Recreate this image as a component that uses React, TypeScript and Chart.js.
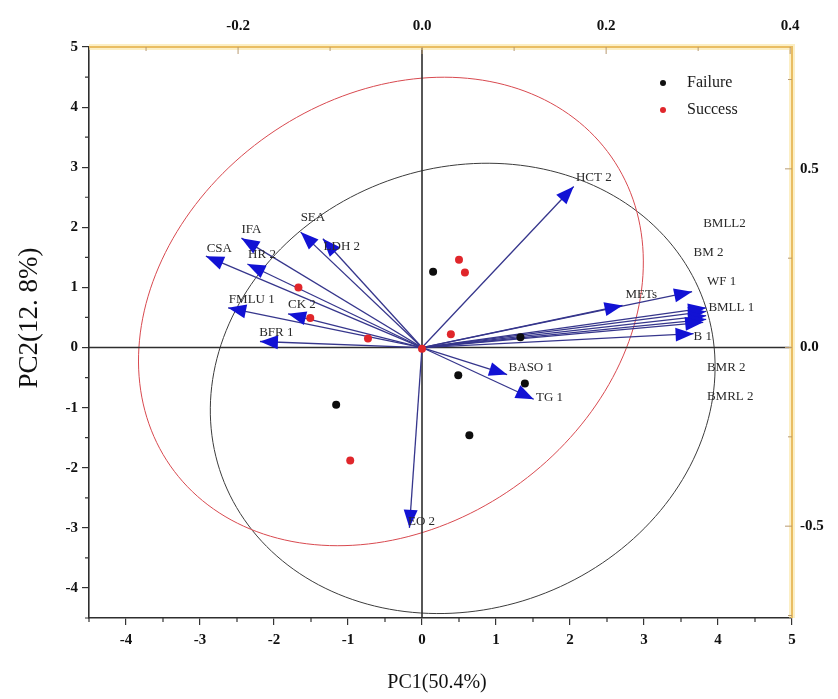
import { useEffect, useRef } from "react";
import { Chart, registerables } from "chart.js";

Chart.register(...registerables);

// ---------- data ----------
const FAILURE_PC1 = [0.15, 0.49, 1.39, 0.64, -1.16, 1.33];
const FAILURE_PC2 = [1.26, -0.46, -0.6, -1.46, -0.95, 0.17];

const SUCCESS_PC1 = [0.5, 0.58, 0.39, -1.67, -1.51, -0.73, -0.97, 0.0];
const SUCCESS_PC2 = [1.46, 1.25, 0.22, 1.0, 0.49, 0.15, -1.88, -0.02];

const LOADING_NAMES = [
  "HCT 2", "SEA", "LDH 2", "IFA", "CSA", "HR 2", "FMLU 1", "CK 2", "BFR 1",
  "METs", "BMLL2", "BM 2", "WF 1", "BMLL 1", "B 1", "BMR 2", "BMRL 2",
  "BASO 1", "TG 1", "EO 2",
];
const LOADING_PC1 = [
  2.05, -1.64, -1.34, -2.44, -2.92, -2.36, -2.62, -1.81, -2.19,
  2.71, 3.84, 3.65, 3.84, 3.84, 3.67, 3.84, 3.8,
  1.15, 1.51, -0.17,
];
const LOADING_PC2 = [
  2.68, 1.92, 1.81, 1.82, 1.52, 1.39, 0.66, 0.56, 0.1,
  0.7, 0.66, 0.93, 0.6, 0.53, 0.23, 0.47, 0.42,
  -0.45, -0.86, -3.0,
];
// where each loading's name is written (data units, left edge / middle)
const LABEL_PC1 = [
  2.08, -1.64, -1.33, -2.44, -2.91, -2.35, -2.61, -1.81, -2.2,
  2.75, 3.8, 3.67, 3.85, 3.87, 3.67, 3.85, 3.85,
  1.17, 1.54, -0.19,
];
const LABEL_PC2 = [
  2.82, 2.16, 1.68, 1.96, 1.64, 1.54, 0.8, 0.71, 0.25,
  0.88, 2.06, 1.58, 1.1, 0.66, 0.18, -0.33, -0.81,
  -0.33, -0.83, -2.89,
];

// confidence ellipses: centre, first and second semi-axis vectors (data units)
const FAILURE_ELLIPSE = [0.55, -0.68, 3.255, 1.46, 1.019, -3.45];
const SUCCESS_ELLIPSE = [-0.42, 0.6, 2.98, 2.57, 1.66, -2.93];

const PC1_TICKS = [-4, -3, -2, -1, 0, 1, 2, 3, 4, 5];
const PC2_TICKS = [-4, -3, -2, -1, 0, 1, 2, 3, 4, 5];
const TOP_TICKS = [-0.2, 0.0, 0.2, 0.4];
const RIGHT_TICKS = [-0.5, 0.0, 0.5];
const TOP_MINOR = [-0.3, -0.1, 0.1, 0.3];
const RIGHT_MINOR = [-0.75, -0.25, 0.25, 0.75];

const PC1_RANGE = [-4.5, 5];
const PC2_RANGE = [-4.5, 5];
const TOP_RANGE = [-0.362, 0.402];
const RIGHT_RANGE = [-0.757, 0.841];

const SERIF = "'Liberation Serif', 'Times New Roman', serif";
const FRAME_COLOR = "#e9bd63";

export default function App() {
  const ref = useRef<HTMLCanvasElement | null>(null);

  useEffect(() => {
    const canvas = ref.current;
    if (!canvas) return;

    const arrowDatasets = LOADING_NAMES.map((name, i) => ({
      type: "line" as const,
      label: name,
      data: [
        { x: 0, y: 0 },
        { x: LOADING_PC1[i], y: LOADING_PC2[i] },
      ],
      showLine: true,
      borderColor: "#36368c",
      borderWidth: 1.3,
      pointRadius: 0,
      fill: false,
      order: 2,
    }));

    const fmt = (v: number) => v.toFixed(1);

    const decor = {
      id: "decor",
      beforeDatasetsDraw(chart: any) {
        const { ctx, chartArea: a, scales } = chart;
        const xs = scales.x;
        const ys = scales.y;
        ctx.save();
        ctx.beginPath();
        ctx.rect(a.left, a.top, a.right - a.left, a.bottom - a.top);
        ctx.clip();
        const drawEllipse = (e: number[], color: string) => {
          ctx.beginPath();
          for (let k = 0; k <= 200; k++) {
            const t = (k / 200) * Math.PI * 2;
            const px = xs.getPixelForValue(e[0] + e[2] * Math.cos(t) + e[4] * Math.sin(t));
            const py = ys.getPixelForValue(e[1] + e[3] * Math.cos(t) + e[5] * Math.sin(t));
            if (k === 0) ctx.moveTo(px, py);
            else ctx.lineTo(px, py);
          }
          ctx.strokeStyle = color;
          ctx.lineWidth = 1;
          ctx.stroke();
        };
        drawEllipse(FAILURE_ELLIPSE, "#3c3c3c");
        drawEllipse(SUCCESS_ELLIPSE, "#d8494f");
        ctx.strokeStyle = "#2e2e2e";
        ctx.lineWidth = 1.6;
        const x0 = xs.getPixelForValue(0);
        const y0 = ys.getPixelForValue(0);
        ctx.beginPath();
        ctx.moveTo(x0, a.top);
        ctx.lineTo(x0, a.bottom);
        ctx.moveTo(a.left, y0);
        ctx.lineTo(a.right, y0);
        ctx.stroke();
        ctx.restore();
      },
      afterDatasetsDraw(chart: any) {
        const { ctx, chartArea: a, scales } = chart;
        const xs = scales.x;
        const ys = scales.y;
        ctx.save();
        const ox = xs.getPixelForValue(0);
        const oy = ys.getPixelForValue(0);
        LOADING_NAMES.forEach((_, i) => {
          const tx = xs.getPixelForValue(LOADING_PC1[i]);
          const ty = ys.getPixelForValue(LOADING_PC2[i]);
          const ang = Math.atan2(ty - oy, tx - ox);
          const L = 18;
          const W = 7;
          const bx = tx - L * Math.cos(ang);
          const by = ty - L * Math.sin(ang);
          ctx.beginPath();
          ctx.moveTo(tx, ty);
          ctx.lineTo(bx + W * Math.sin(ang), by - W * Math.cos(ang));
          ctx.lineTo(bx - W * Math.sin(ang), by + W * Math.cos(ang));
          ctx.closePath();
          ctx.fillStyle = "#1212d4";
          ctx.fill();
        });
        ctx.font = `13px ${SERIF}`;
        ctx.fillStyle = "#2a2a2a";
        ctx.textAlign = "left";
        ctx.textBaseline = "middle";
        LOADING_NAMES.forEach((name, i) => {
          ctx.fillText(name, xs.getPixelForValue(LABEL_PC1[i]), ys.getPixelForValue(LABEL_PC2[i]));
        });

        ctx.lineCap = "butt";
        ctx.strokeStyle = "rgba(250,225,150,0.55)";
        ctx.lineWidth = 6;
        ctx.beginPath();
        ctx.moveTo(a.left, a.top);
        ctx.lineTo(a.right, a.top);
        ctx.lineTo(a.right, a.bottom);
        ctx.stroke();
        ctx.strokeStyle = FRAME_COLOR;
        ctx.lineWidth = 2;
        ctx.stroke();

        const top = scales.x2;
        const right = scales.y2;
        ctx.strokeStyle = "#b89a70";
        ctx.lineWidth = 1;
        ctx.beginPath();
        TOP_TICKS.forEach((v) => {
          const p = top.getPixelForValue(v);
          ctx.moveTo(p, a.top);
          ctx.lineTo(p, a.top + 7);
        });
        TOP_MINOR.forEach((v) => {
          const p = top.getPixelForValue(v);
          ctx.moveTo(p, a.top);
          ctx.lineTo(p, a.top + 4);
        });
        RIGHT_TICKS.forEach((v) => {
          const p = right.getPixelForValue(v);
          ctx.moveTo(a.right, p);
          ctx.lineTo(a.right - 7, p);
        });
        RIGHT_MINOR.forEach((v) => {
          const p = right.getPixelForValue(v);
          ctx.moveTo(a.right, p);
          ctx.lineTo(a.right - 4, p);
        });
        ctx.stroke();

        ctx.strokeStyle = "#333";
        ctx.lineWidth = 1.2;
        ctx.beginPath();
        PC1_TICKS.forEach((v) => {
          const p = xs.getPixelForValue(v - 0.5);
          ctx.moveTo(p, a.bottom);
          ctx.lineTo(p, a.bottom + 4);
        });
        PC2_TICKS.forEach((v) => {
          const p = ys.getPixelForValue(v - 0.5);
          ctx.moveTo(a.left, p);
          ctx.lineTo(a.left - 4, p);
        });
        ctx.stroke();

        const lx = 663;
        const items: [string, string, number][] = [
          ["Failure", "#111", 83],
          ["Success", "#e0262b", 110],
        ];
        ctx.font = `16px ${SERIF}`;
        ctx.textBaseline = "middle";
        items.forEach(([t, c, y]) => {
          ctx.beginPath();
          ctx.arc(lx, y, 3, 0, Math.PI * 2);
          ctx.fillStyle = c;
          ctx.fill();
          ctx.fillStyle = "#1a1a1a";
          ctx.fillText(t, lx + 24, y);
        });

        ctx.fillStyle = "#111";
        ctx.textAlign = "center";
        ctx.font = `20px ${SERIF}`;
        ctx.fillText("PC1(50.4%)", 437, 683);
        ctx.save();
        ctx.translate(30, 318);
        ctx.rotate(-Math.PI / 2);
        ctx.font = `27px ${SERIF}`;
        ctx.fillText("PC2(12. 8%)", 0, 0);
        ctx.restore();
        ctx.restore();
      },
    };

    const tickFont = { family: SERIF, size: 15, weight: "bold" as const };

    const chart = new Chart(canvas, {
      type: "scatter",
      data: {
        datasets: [
          {
            label: "Failure",
            data: FAILURE_PC1.map((x, i) => ({ x, y: FAILURE_PC2[i] })),
            pointRadius: 4,
            pointBackgroundColor: "#0d0d0d",
            pointBorderWidth: 0,
            order: 1,
          },
          {
            label: "Success",
            data: SUCCESS_PC1.map((x, i) => ({ x, y: SUCCESS_PC2[i] })),
            pointRadius: 4,
            pointBackgroundColor: "#e0262b",
            pointBorderWidth: 0,
            order: 1,
          },
          ...arrowDatasets,
        ] as any,
      },
      options: {
        responsive: false,
        animation: false,
        layout: { padding: 0 },
        plugins: { legend: { display: false }, tooltip: { enabled: false } },
        scales: {
          x: {
            type: "linear",
            position: "bottom",
            min: PC1_RANGE[0],
            max: PC1_RANGE[1],
            afterBuildTicks: (s: any) => {
              s.ticks = PC1_TICKS.map((v) => ({ value: v }));
            },
            afterFit: (s: any) => {
              s.height = 81;
            },
            grid: { drawOnChartArea: false, drawTicks: true, tickLength: 7, color: "#333", lineWidth: 1.2 },
            border: { color: "#2e2e2e", width: 1.6 },
            ticks: { font: tickFont, color: "#111", padding: 6, maxRotation: 0 },
          },
          x2: {
            type: "linear",
            position: "top",
            min: TOP_RANGE[0],
            max: TOP_RANGE[1],
            afterBuildTicks: (s: any) => {
              s.ticks = TOP_TICKS.map((v) => ({ value: v }));
            },
            afterFit: (s: any) => {
              s.height = 47;
            },
            grid: { display: false, drawTicks: false },
            border: { display: false },
            ticks: { font: tickFont, color: "#111", padding: 12, maxRotation: 0, callback: (v: any) => fmt(Number(v)) },
          },
          y: {
            type: "linear",
            position: "left",
            min: PC2_RANGE[0],
            max: PC2_RANGE[1],
            afterBuildTicks: (s: any) => {
              s.ticks = PC2_TICKS.map((v) => ({ value: v }));
            },
            afterFit: (s: any) => {
              s.width = 89;
            },
            grid: { drawOnChartArea: false, drawTicks: true, tickLength: 7, color: "#333", lineWidth: 1.2 },
            border: { color: "#2e2e2e", width: 1.6 },
            ticks: { font: tickFont, color: "#111", padding: 4 },
          },
          y2: {
            type: "linear",
            position: "right",
            min: RIGHT_RANGE[0],
            max: RIGHT_RANGE[1],
            afterBuildTicks: (s: any) => {
              s.ticks = RIGHT_TICKS.map((v) => ({ value: v }));
            },
            afterFit: (s: any) => {
              s.width = 46;
            },
            grid: { display: false, drawTicks: false },
            border: { display: false },
            ticks: { font: tickFont, color: "#111", padding: 8, callback: (v: any) => fmt(Number(v)) },
          },
        },
      } as any,
      plugins: [decor],
    });

    return () => chart.destroy();
  }, []);

  return (
    <div style={{ position: "fixed", left: 0, top: 0, width: 838, height: 699, background: "#fff" }}>
      <canvas ref={ref} width={838} height={699} style={{ width: 838, height: 699 }} />
    </div>
  );
}
